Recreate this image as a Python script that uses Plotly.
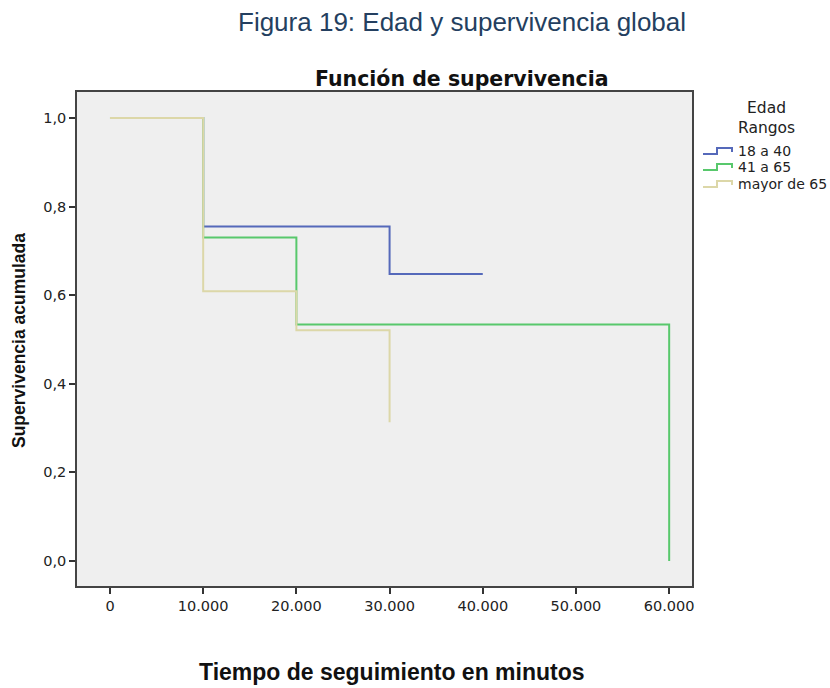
import plotly.graph_objects as go

# Data
series_names = ["18 a 40", "41 a 65", "mayor de 65"]
t_18_40 = [0, 10000, 30000, 40000]
s_18_40 = [1.0, 0.755, 0.648, 0.648]
t_41_65 = [0, 10000, 20000, 60000]
s_41_65 = [1.0, 0.730, 0.534, 0.0]
t_65 = [0, 10000, 20000, 30000]
s_65 = [1.0, 0.609, 0.521, 0.313]
x_ticks = [0, 10000, 20000, 30000, 40000, 50000, 60000]
x_tick_labels = ["0", "10.000", "20.000", "30.000", "40.000", "50.000", "60.000"]
y_ticks = [0.0, 0.2, 0.4, 0.6, 0.8, 1.0]
y_tick_labels = ["0,0", "0,2", "0,4", "0,6", "0,8", "1,0"]
legend_title = "Edad<br>Rangos"

colors = ["#5569ba", "#58c86c", "#dcd7a8"]

# plot area target (page px): x 77..692, y 92..586
W, H = 830, 688
PL, PR, PT, PB = 77, 692, 92, 586
def px(x):
    return (x - PL) / (PR - PL)
def py(y):
    return (PB - y) / (PB - PT)

fig = go.Figure()
for name, t, s, c in zip(series_names, [t_18_40, t_41_65, t_65], [s_18_40, s_41_65, s_65], colors):
    fig.add_trace(go.Scatter(x=t, y=s, mode="lines", name=name, showlegend=False,
                             line=dict(shape="hv", color=c, width=2)))

tick_font = dict(family="DejaVu Sans", size=14.5, color="#222")
annotations = [
    dict(text="Figura 19: Edad y supervivencia global", x=px(462), y=py(22),
         font=dict(size=26, color="#243f60", family="Liberation Sans, Arial, sans-serif")),
    dict(text="<b>Función de supervivencia</b>", x=px(462), y=py(79),
         font=dict(size=20.5, color="#111", family="DejaVu Sans")),
    dict(text="<b>Tiempo de seguimiento en minutos</b>", x=px(392), y=py(672),
         font=dict(size=23, color="#111", family="Liberation Sans, Arial, sans-serif")),
    dict(text="<b>Supervivencia acumulada</b>", x=px(19), y=py(341), textangle=-90,
         font=dict(size=17.5, color="#111", family="Liberation Sans, Arial, sans-serif")),
    dict(text=legend_title, x=px(766), y=py(118.5), align="center",
         font=dict(size=15.5, color="#222", family="DejaVu Sans")),
]
shapes = []
leg_y = [151, 167, 184]
for name, c, ly in zip(series_names, colors, leg_y):
    annotations.append(dict(text=name, x=px(736), y=py(ly), xanchor="left",
                            font=dict(size=14, color="#222", family="DejaVu Sans")))
    path = "M {a},{b} L {c},{b} L {c},{d} L {e},{d} L {e},{f}".format(
        a=px(703), b=py(ly + 3), c=px(717), d=py(ly - 3), e=px(732), f=py(ly + 1))
    shapes.append(dict(type="path", xref="paper", yref="paper", path=path,
                       line=dict(color=c, width=2)))
for a in annotations:
    a.update(xref="paper", yref="paper", showarrow=False)
    a.setdefault("xanchor", "center")
    a.setdefault("yanchor", "middle")

fig.update_layout(
    width=W, height=H,
    margin=dict(l=PL, r=W - PR, t=PT, b=H - PB),
    paper_bgcolor="white", plot_bgcolor="#efefef",
    font=dict(family="Liberation Sans, Arial, sans-serif", color="#222"),
    showlegend=False,
    annotations=annotations,
    shapes=shapes,
)
fig.update_xaxes(range=[-3540, 62450], tickvals=x_ticks, ticktext=x_tick_labels,
                 ticks="outside", ticklen=6, tickwidth=1.5, tickcolor="#333",
                 showline=True, linecolor="#444", linewidth=1.5, mirror=True,
                 showgrid=False, zeroline=False, tickfont=tick_font)
fig.update_yaxes(range=[-0.0564, 1.0587], tickvals=y_ticks, ticktext=y_tick_labels,
                 ticks="outside", ticklen=6, tickwidth=1.5, tickcolor="#333",
                 showline=True, linecolor="#444", linewidth=1.5, mirror=True,
                 showgrid=False, zeroline=False, tickfont=tick_font)

fig.write_html("out.html", config={"displayModeBar": False},
               post_script="document.body.style.margin='0';document.body.style.overflow='hidden';")
